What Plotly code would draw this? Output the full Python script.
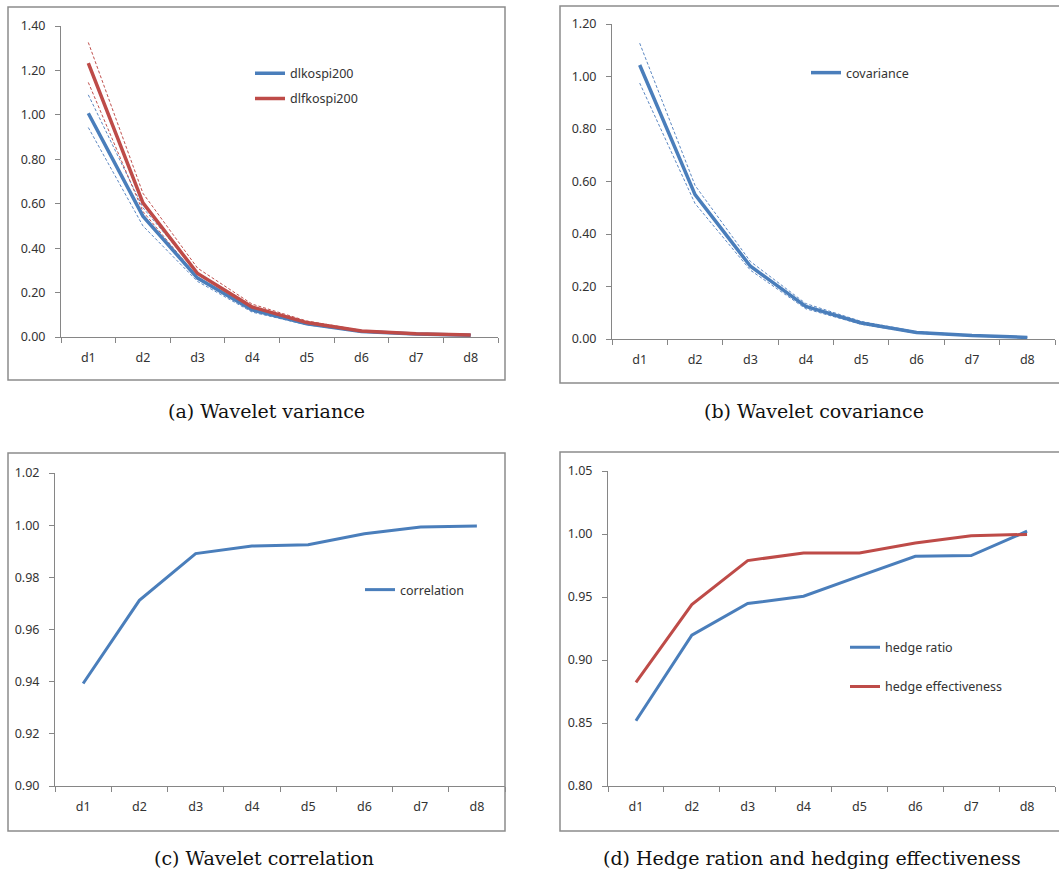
import plotly.graph_objects as go

W, H = 1059, 878

categories = ["d1", "d2", "d3", "d4", "d5", "d6", "d7", "d8"]

# (a) wavelet variance
dlkospi200 = [1.007, 0.544, 0.265, 0.122, 0.060, 0.025, 0.013, 0.008]
dlkospi200_lo = [0.943, 0.500, 0.250, 0.112, 0.055, 0.022, 0.011, 0.006]
dlkospi200_hi = [1.090, 0.582, 0.290, 0.135, 0.066, 0.028, 0.015, 0.010]
dlfkospi200 = [1.233, 0.604, 0.286, 0.135, 0.065, 0.027, 0.015, 0.009]
dlfkospi200_lo = [1.146, 0.565, 0.270, 0.125, 0.060, 0.024, 0.013, 0.007]
dlfkospi200_hi = [1.326, 0.647, 0.310, 0.148, 0.072, 0.030, 0.017, 0.011]

# (b) wavelet covariance
covariance = [1.044, 0.550, 0.277, 0.124, 0.061, 0.025, 0.013, 0.006]
covariance_lo = [0.975, 0.516, 0.262, 0.115, 0.056, 0.022, 0.011, 0.005]
covariance_hi = [1.127, 0.585, 0.295, 0.135, 0.067, 0.028, 0.015, 0.008]

# (c) wavelet correlation
correlation = [0.9393, 0.9712, 0.9891, 0.9920, 0.9925, 0.9967, 0.9993, 0.9997]

# (d) hedge ratio and hedging effectiveness
hedge_ratio = [0.8518, 0.9197, 0.9448, 0.9506, 0.9665, 0.9823, 0.9829, 1.0022]
hedge_effectiveness = [0.8822, 0.9440, 0.9789, 0.9850, 0.9850, 0.9929, 0.9987, 0.9997]

captions = ["(a) Wavelet variance", "(b) Wavelet covariance",
            "(c) Wavelet correlation", "(d) Hedge ration and hedging effectiveness"]

BLUE = "#4A7EBB"
RED = "#BE4B48"
BLUE_D = "#5B87C2"
RED_D = "#C0504D"
AXIS = "#868686"
TXT = "#333333"
FONT = "Noto Sans"


def fx(px):
    return px / W


def fy(py):
    return 1 - py / H


fig = go.Figure()

# plot area domains (page pixels)
dom = {
    1: (61, 498, 26, 337),
    2: (612, 1055, 24, 339),
    3: (55, 505, 473, 786),
    4: (608, 1055, 471, 786),
}
yranges = {1: [0, 1.4], 2: [0, 1.2], 3: [0.9, 1.02], 4: [0.8, 1.05]}
ydt = {1: 0.2, 2: 0.2, 3: 0.02, 4: 0.05}

tickfont = dict(family=FONT, size=12.5, color=TXT)
for i in range(1, 5):
    x0, x1, y0, y1 = dom[i]
    sfx = "" if i == 1 else str(i)
    fig.layout["xaxis" + sfx] = dict(
        domain=[fx(x0), min(fx(x1), 1.0)], anchor="y" + sfx, type="category",
        categoryorder="array", categoryarray=categories,
        range=[-0.5, 7.5], tickson="boundaries", ticks="outside", ticklen=5,
        tickcolor=AXIS, showline=True, linecolor=AXIS, linewidth=1,
        showgrid=False, zeroline=False, ticklabelstandoff=9, automargin=False,
        tickfont=tickfont, fixedrange=True)
    fig.layout["yaxis" + sfx] = dict(
        domain=[fy(y1), fy(y0)], anchor="x" + sfx, range=yranges[i],
        dtick=ydt[i], tick0=yranges[i][0], tickformat=".2f",
        ticks="outside", ticklen=5, tickcolor=AXIS, showline=True,
        linecolor=AXIS, linewidth=1, showgrid=False, zeroline=False,
        ticklabelstandoff=7, automargin=False, tickfont=tickfont, fixedrange=True)


def dotted(y, color, xa, ya):
    return go.Scatter(x=categories, y=y, mode="lines", xaxis=xa, yaxis=ya,
                      line=dict(color=color, width=1, dash="3px,2px"),
                      showlegend=False, hoverinfo="skip")


# (a)
fig.add_trace(dotted(dlkospi200_lo, BLUE_D, "x", "y"))
fig.add_trace(dotted(dlkospi200_hi, BLUE_D, "x", "y"))
fig.add_trace(dotted(dlfkospi200_lo, RED_D, "x", "y"))
fig.add_trace(dotted(dlfkospi200_hi, RED_D, "x", "y"))
fig.add_trace(go.Scatter(x=categories, y=dlkospi200, mode="lines", name="dlkospi200",
                         line=dict(color=BLUE, width=3.5), xaxis="x", yaxis="y",
                         legend="legend", legendgroup="a1"))
fig.add_trace(go.Scatter(x=categories, y=dlfkospi200, mode="lines", name="dlfkospi200",
                         line=dict(color=RED, width=3.5), xaxis="x", yaxis="y",
                         legend="legend", legendgroup="a2"))

# (b)
fig.add_trace(dotted(covariance_lo, BLUE_D, "x2", "y2"))
fig.add_trace(dotted(covariance_hi, BLUE_D, "x2", "y2"))
fig.add_trace(go.Scatter(x=categories, y=covariance, mode="lines", name="covariance",
                         line=dict(color=BLUE, width=3.5), xaxis="x2", yaxis="y2",
                         legend="legend2"))

# (c)
fig.add_trace(go.Scatter(x=categories, y=correlation, mode="lines", name="correlation",
                         line=dict(color=BLUE, width=3), xaxis="x3", yaxis="y3",
                         legend="legend3"))

# (d)
fig.add_trace(go.Scatter(x=categories, y=hedge_ratio, mode="lines", name="hedge ratio",
                         line=dict(color=BLUE, width=3), xaxis="x4", yaxis="y4",
                         legend="legend4", legendgroup="d1"))
fig.add_trace(go.Scatter(x=categories, y=hedge_effectiveness, mode="lines",
                         name="hedge effectiveness",
                         line=dict(color=RED, width=3), xaxis="x4", yaxis="y4",
                         legend="legend4", legendgroup="d2"))

legfont = dict(family=FONT, size=12.5, color=TXT)
common_leg = dict(xanchor="left", yanchor="middle", bgcolor="rgba(0,0,0,0)",
                  font=legfont, itemwidth=30, traceorder="grouped")
fig.update_layout(
    legend=dict(x=fx(250), y=fy(86), tracegroupgap=6, **common_leg),
    legend2=dict(x=fx(806), y=fy(73), **common_leg),
    legend3=dict(x=fx(360), y=fy(590), **common_leg),
    legend4=dict(x=fx(845), y=fy(667), tracegroupgap=20, **common_leg),
)

# chart area borders
for (bx0, by0, bx1, by1) in [(8, 7, 505, 380), (560, 6, 1070, 383),
                             (8, 453, 505, 831), (560, 452, 1070, 831)]:
    fig.add_shape(type="rect", xref="paper", yref="paper",
                  x0=fx(bx0), x1=fx(bx1), y0=fy(by1), y1=fy(by0),
                  line=dict(color="#8C8C8C", width=1.5), fillcolor="rgba(0,0,0,0)")

# captions
for (cx, cy), txt in zip([(266, 411), (814, 411), (264, 858), (812, 858)], captions):
    fig.add_annotation(x=fx(cx), y=fy(cy), xref="paper", yref="paper", text=txt,
                       showarrow=False, xanchor="center", yanchor="middle",
                       font=dict(family="DejaVu Serif", size=19, color="#111"))

fig.update_layout(width=W, height=H,
                  margin=dict(l=0, r=0, t=0, b=0, pad=0, autoexpand=False),
                  paper_bgcolor="white", plot_bgcolor="white")

# pin the figure to the page's top-left corner so the page is exactly the figure
pin = """
document.documentElement.style.margin='0';
document.body.style.margin='0';
document.documentElement.style.overflow='hidden';
document.body.style.overflow='hidden';
var gd = document.getElementById('{plot_id}');
gd.style.position='fixed'; gd.style.top='0px'; gd.style.left='0px';
"""
fig.write_html("out.html", post_script=pin, config={"displayModeBar": False})
